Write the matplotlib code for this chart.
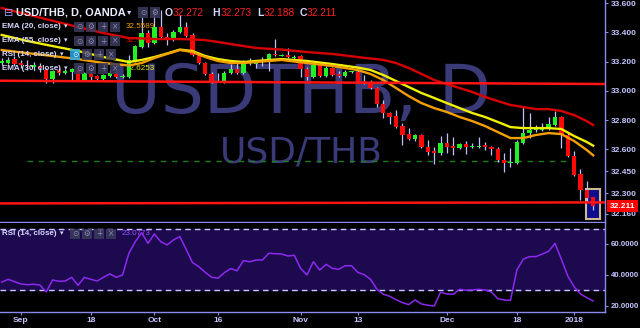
import matplotlib
matplotlib.use("Agg")
import matplotlib.pyplot as plt
import matplotlib.transforms as mtransforms
from matplotlib.patches import Rectangle

# USD/THB daily bars (OANDA), end of Aug 2017 to 4 Jan 2018, one entry per bar
opens = [33.190, 33.190, 33.217, 33.190, 33.176, 33.163, 33.170, 33.142, 33.081, 33.142,
         33.122, 33.128, 33.142, 33.074, 33.122, 33.101, 33.081, 33.101, 33.122, 33.094,
         33.094, 33.204, 33.300, 33.395, 33.327, 33.436, 33.368, 33.347, 33.402, 33.436,
         33.382, 33.245, 33.190, 33.115, 33.060, 33.060, 33.122, 33.149, 33.122, 33.204,
         33.183, 33.204, 33.197, 33.252, 33.241, 33.245, 33.224, 33.238, 33.149, 33.094,
         33.183, 33.101, 33.156, 33.115, 33.101, 33.127, 33.128, 33.067, 33.053, 33.019,
         32.910, 32.848, 32.828, 32.759, 32.704, 32.670, 32.698, 32.616, 32.588, 32.574,
         32.643, 32.622, 32.609, 32.636, 32.616, 32.619, 32.629, 32.616, 32.602, 32.527,
         32.506, 32.506, 32.643, 32.711, 32.732, 32.732, 32.745, 32.766, 32.821, 32.698,
         32.554, 32.431, 32.321, 32.272]
highs = [33.224, 33.231, 33.238, 33.211, 33.211, 33.197, 33.190, 33.156, 33.142, 33.156,
         33.149, 33.156, 33.149, 33.128, 33.128, 33.108, 33.115, 33.142, 33.135, 33.115,
         33.245, 33.313, 33.505, 33.416, 33.566, 33.553, 33.395, 33.416, 33.518, 33.471,
         33.395, 33.258, 33.197, 33.128, 33.122, 33.135, 33.183, 33.190, 33.211, 33.224,
         33.211, 33.231, 33.258, 33.354, 33.252, 33.293, 33.245, 33.245, 33.163, 33.190,
         33.197, 33.170, 33.163, 33.135, 33.142, 33.135, 33.142, 33.108, 33.074, 33.026,
         32.937, 32.855, 32.869, 32.780, 32.745, 32.704, 32.704, 32.663, 32.616, 32.691,
         32.711, 32.684, 32.643, 32.657, 32.643, 32.684, 32.650, 32.622, 32.616, 32.574,
         32.609, 32.663, 32.896, 32.848, 32.766, 32.780, 32.821, 32.862, 32.828, 32.718,
         32.588, 32.465, 32.383, 32.273]
lows = [33.176, 33.183, 33.170, 33.156, 33.142, 33.142, 33.128, 33.053, 33.053, 33.108,
        33.115, 33.074, 33.067, 33.067, 33.074, 33.067, 33.074, 33.094, 33.087, 33.087,
        33.087, 33.197, 33.293, 33.300, 33.320, 33.361, 33.313, 33.341, 33.395, 33.368,
        33.238, 33.183, 33.108, 33.053, 33.057, 33.053, 33.115, 33.115, 33.115, 33.176,
        33.156, 33.170, 33.135, 33.238, 33.238, 33.224, 33.217, 33.094, 33.074, 33.087,
        33.094, 33.094, 33.101, 33.094, 33.094, 33.124, 33.053, 33.046, 33.012, 32.889,
        32.814, 32.773, 32.745, 32.629, 32.663, 32.657, 32.609, 32.561, 32.499, 32.561,
        32.574, 32.561, 32.602, 32.568, 32.609, 32.609, 32.595, 32.561, 32.513, 32.445,
        32.479, 32.499, 32.636, 32.677, 32.718, 32.725, 32.732, 32.759, 32.609, 32.547,
        32.417, 32.253, 32.239, 32.188]
closes = [33.204, 33.211, 33.183, 33.176, 33.170, 33.176, 33.156, 33.081, 33.135, 33.122,
          33.135, 33.149, 33.074, 33.122, 33.094, 33.081, 33.108, 33.122, 33.094, 33.101,
          33.211, 33.306, 33.395, 33.327, 33.436, 33.368, 33.347, 33.402, 33.436, 33.375,
          33.245, 33.190, 33.115, 33.060, 33.067, 33.122, 33.149, 33.122, 33.197, 33.190,
          33.204, 33.200, 33.252, 33.245, 33.245, 33.231, 33.231, 33.149, 33.094, 33.176,
          33.101, 33.156, 33.108, 33.101, 33.128, 33.131, 33.060, 33.053, 33.019, 32.910,
          32.848, 32.821, 32.752, 32.698, 32.670, 32.698, 32.616, 32.581, 32.574, 32.643,
          32.616, 32.609, 32.636, 32.616, 32.622, 32.622, 32.616, 32.602, 32.527, 32.506,
          32.509, 32.650, 32.711, 32.732, 32.735, 32.752, 32.773, 32.821, 32.698, 32.554,
          32.424, 32.321, 32.267, 32.211]

rsi14 = [35.2, 37.1, 35.6, 34.1, 33.6, 33.9, 33.4, 28.9, 36.7, 35.8,
         36.0, 38.4, 33.2, 38.4, 37.1, 36.0, 38.4, 40.6, 38.4, 39.9,
         54.0, 61.5, 67.3, 60.4, 66.5, 61.5, 59.4, 62.6, 64.8, 56.5,
         47.9, 45.3, 41.6, 38.4, 37.8, 41.4, 44.0, 42.7, 49.2, 48.5,
         49.6, 49.6, 54.0, 53.7, 53.5, 52.2, 52.7, 44.2, 39.9, 48.5,
         43.1, 46.8, 44.2, 43.6, 45.9, 45.9, 41.6, 40.1, 37.1, 30.6,
         27.4, 26.1, 23.9, 22.0, 20.7, 23.7, 21.1, 20.3, 19.8, 28.7,
         27.6, 27.4, 30.6, 30.0, 30.2, 30.6, 30.2, 28.9, 24.5, 23.7,
         23.5, 43.1, 50.1, 51.8, 51.8, 53.5, 55.3, 60.4, 50.1, 39.3,
         32.3, 27.6, 25.2, 23.08]

# moving averages every few bars
ema_bars = [0, 4, 8, 12, 16, 20, 22, 24, 26, 28, 30, 32, 34, 36, 38, 40, 44, 48, 52,
            56, 58, 60, 62, 64, 66, 68, 70, 72, 74, 76, 78, 80, 82, 84, 86, 88, 90, 92, 93]
ema20 = [33.279, 33.258, 33.238, 33.217, 33.190, 33.173, 33.190, 33.224, 33.252, 33.279,
         33.265, 33.231, 33.204, 33.190, 33.190, 33.197, 33.211, 33.190, 33.170, 33.142,
         33.115, 33.074, 33.019, 32.964, 32.916, 32.882, 32.855, 32.821, 32.793, 32.759,
         32.718, 32.677, 32.677, 32.698, 32.711, 32.704, 32.657, 32.595, 32.559]
ema30 = [33.382, 33.341, 33.306, 33.272, 33.231, 33.197, 33.211, 33.231, 33.255, 33.282,
         33.272, 33.238, 33.217, 33.204, 33.197, 33.204, 33.217, 33.204, 33.183, 33.159,
         33.142, 33.108, 33.067, 33.026, 32.985, 32.951, 32.916, 32.882, 32.848, 32.821,
         32.787, 32.752, 32.745, 32.745, 32.745, 32.739, 32.691, 32.650, 32.625]
ema55 = [33.566, 33.522, 33.479, 33.436, 33.395, 33.361, 33.358, 33.354, 33.354, 33.354,
         33.351, 33.347, 33.334, 33.320, 33.306, 33.293, 33.282, 33.265, 33.252, 33.231,
         33.221, 33.211, 33.190, 33.156, 33.115, 33.074, 33.046, 33.019, 32.992, 32.958,
         32.930, 32.903, 32.889, 32.875, 32.875, 32.862, 32.834, 32.793, 32.766]

# hand drawn lines (price at first and last bar)
upper_line = [33.069, 33.047]
lower_line = [32.230, 32.237]
dash_level = 32.52
dash_bars = [4, 89]

price_ticks = [33.6, 33.4, 33.2, 33.0, 32.8, 32.6, 32.45, 32.3, 32.16]
rsi_ticks = [20, 40, 60]
date_bars = [3, 14, 24, 34, 47, 56, 70, 81, 90]
date_labels = ["Sep", "18", "Oct", "16", "Nov", "13", "Dec", "18", "2018"]

BG = "black"
AXC = "#8a8af0"
TXT = "#c4c4ff"
LEG = "#d8d8ff"
UP = "#22f022"
DN = "#ff0808"
WICK = "#c0c0ff"

plt.rcParams["font.family"] = ["Liberation Sans", "DejaVu Sans"]

W, H = 640, 328
fig = plt.figure(figsize=(6.4, 3.28), dpi=100, facecolor=BG)

def fx(px):
    return px / W

def fy(py):
    return 1 - py / H

ax = fig.add_axes([0, fy(222), fx(605), 222 / H])
ax_rsi = fig.add_axes([0, fy(311.7), fx(605), (311.7 - 222.7) / H], sharex=ax)
for a in (ax, ax_rsi):
    a.set_facecolor(BG)
    for s in ("left", "top"):
        a.spines[s].set_visible(False)
    for s in ("right", "bottom"):
        a.spines[s].set_color(AXC)
        a.spines[s].set_linewidth(1)

n = len(closes)
idx = list(range(n))

# candles
cols = [UP if c >= o else DN for o, c in zip(opens, closes)]
bottoms = [min(o, c) for o, c in zip(opens, closes)]
heights = [max(abs(c - o), 0.006) for o, c in zip(opens, closes)]
ax.vlines(idx, lows, highs, colors=WICK, lw=0.9, zorder=2)
ax.bar(idx, heights, bottom=bottoms, width=0.68, color=cols, lw=0, zorder=3)

# highlight on the last bar
ax.add_patch(Rectangle((n - 1 - 1.1, 32.123), 2.2, 0.205, fc="#0c0c8c", ec="#cdb98f",
                       lw=1.5, zorder=1.5))

ax.plot(ema_bars, ema55, color="#d80000", lw=1.7, zorder=4)
ax.plot(ema_bars, ema30, color="#f0f000", lw=1.7, zorder=4)
ax.plot(ema_bars, ema20, color="#f5a000", lw=1.7, zorder=4)

ax.axline((0, upper_line[0]), (n - 1, upper_line[1]), color="#ff1414", lw=1.8, zorder=4)
ax.axline((0, lower_line[0]), (n - 1, lower_line[1]), color="#ff1414", lw=1.8, zorder=4)
ax.hlines(dash_level, dash_bars[0], dash_bars[1], colors="#207a20", lw=1,
          linestyles=(0, (4, 4)), zorder=1)

# watermark
ax.text(fx(301), fy(113), "USDTHB, D", transform=fig.transFigure, ha="center",
        va="baseline", fontsize=49, color="#3a3a78", family="DejaVu Sans", zorder=0.5)
ax.text(fx(301), fy(163), "USD/THB", transform=fig.transFigure, ha="center",
        va="baseline", fontsize=26, color="#3a3a78", family="DejaVu Sans", zorder=0.5)

ax.set_xlim(-0.27, 94.86)
ax.set_ylim(32.103, 33.621)
ax.yaxis.tick_right()
ax.set_yticks(price_ticks, labels=[f"{v:.3f}" for v in price_ticks])
ax.tick_params(axis="y", colors=TXT, labelsize=6, length=2.5, width=0.8, pad=1.5)
ax.tick_params(axis="y", color=AXC)
ax.tick_params(axis="x", bottom=False, labelbottom=False)
for lab in ax.get_yticklabels():
    lab.set_fontweight("bold")

# last price tag
tr = mtransforms.blended_transform_factory(ax.transAxes, ax.transData)
ax.text(1.008, 32.211, "32.211", transform=tr, ha="left", va="center", color="white",
        fontsize=6, fontweight="bold", zorder=6,
        bbox=dict(boxstyle="square,pad=0.3", fc="#ff0000", ec="none"))

# RSI pane
ax_rsi.axhspan(30, 70, color="#1d0a4e", zorder=0)
ax_rsi.axhline(70, color="#c8c8ff", lw=1, ls=(0, (4, 3)), zorder=1)
ax_rsi.axhline(30, color="#c8c8ff", lw=1, ls=(0, (4, 3)), zorder=1)
ax_rsi.plot(idx, rsi14, color="#8c28f0", lw=1.1, zorder=3)
ax_rsi.set_ylim(16.1, 73.8)
ax_rsi.yaxis.tick_right()
ax_rsi.set_yticks(rsi_ticks, labels=[f"{v:.4f}" for v in rsi_ticks])
ax_rsi.set_xticks(date_bars, labels=date_labels)
ax_rsi.tick_params(colors=TXT, labelsize=6, length=2.5, width=0.8, pad=1.5)
ax_rsi.tick_params(axis="y", labelsize=5.7)
ax_rsi.tick_params(color=AXC)
for lab in ax_rsi.get_yticklabels() + ax_rsi.get_xticklabels():
    lab.set_fontweight("bold")


def icon(px, py, sym, fc="#3b3b5c", tc="#8a8ab8"):
    fig.add_artist(Rectangle((fx(px), fy(py + 5)), fx(10), 10 / H, transform=fig.transFigure,
                             fc=fc, ec="none", alpha=0.85, zorder=5))
    fig.text(fx(px + 5), fy(py), sym, ha="center", va="center", fontsize=5.5, color=tc,
             family="DejaVu Sans", zorder=6)


# header line
fig.text(fx(4), fy(12.5), "⊟", color="#9a9aff", fontsize=8, va="center", family="DejaVu Sans")
fig.text(fx(16), fy(12.5), "USD/THB, D, OANDA", color="#ececff", fontsize=7.9,
         fontweight="bold", va="center")
fig.text(fx(127), fy(12.5), "▾", color=LEG, fontsize=6, va="center")
icon(138, 12.5, "⊙")
icon(150, 12.5, "⚙")
for x_l, x_v, letter, val in [(165, 173, "O", "32.272"), (212, 221, "H", "32.273"),
                              (257, 264, "L", "32.188"), (300, 307, "C", "32.211")]:
    fig.text(fx(x_l), fy(12.5), letter, color=LEG, fontsize=7.5, fontweight="bold", va="center")
    fig.text(fx(x_v), fy(12.5), val, color="#ff2020", fontsize=7.3, va="center")

# indicator legend rows
rows = [(26.7, "EMA (20, close)", "32.5589", "#f5a000", False),
        (41, "EMA (55, close)", "32.7652", "#e00000", False),
        (54.5, "RSI (14, close)", None, None, True),
        (68.5, "EMA (30, close)", "32.6253", "#f0f000", False)]
for py, name, val, vcol, is_rsi in rows:
    fig.text(fx(2), fy(py), name, color=LEG, fontsize=5.8, fontweight="bold", va="center")
    fig.text(fx(60 if is_rsi else 64), fy(py), "▾", color=LEG, fontsize=5, va="center")
    x0 = 70 if is_rsi else 74
    icon(x0, py, "⊙", fc="#2aa8e8" if is_rsi else "#3b3b5c", tc="#e0f4ff" if is_rsi else "#8a8ab8")
    icon(x0 + 12, py, "⚙")
    icon(x0 + 24, py, "+")
    icon(x0 + 36, py, "×")
    if val:
        ax.text(fx(126), fy(py), val, transform=fig.transFigure, color=vcol, fontsize=5.8,
                va="center", zorder=2.5)

# RSI legend
fig.text(fx(2), fy(233.5), "RSI (14, close)", color=LEG, fontsize=5.8, fontweight="bold",
         va="center")
fig.text(fx(60), fy(233.5), "▾", color=LEG, fontsize=5, va="center")
icon(70, 233.5, "⊙")
icon(82, 233.5, "⚙")
icon(94, 233.5, "+")
icon(106, 233.5, "×")
fig.text(fx(122), fy(233.5), "23.0773", color="#9a4dff", fontsize=5.8, va="center")

fig.savefig("out.png", dpi=100, facecolor=BG)
